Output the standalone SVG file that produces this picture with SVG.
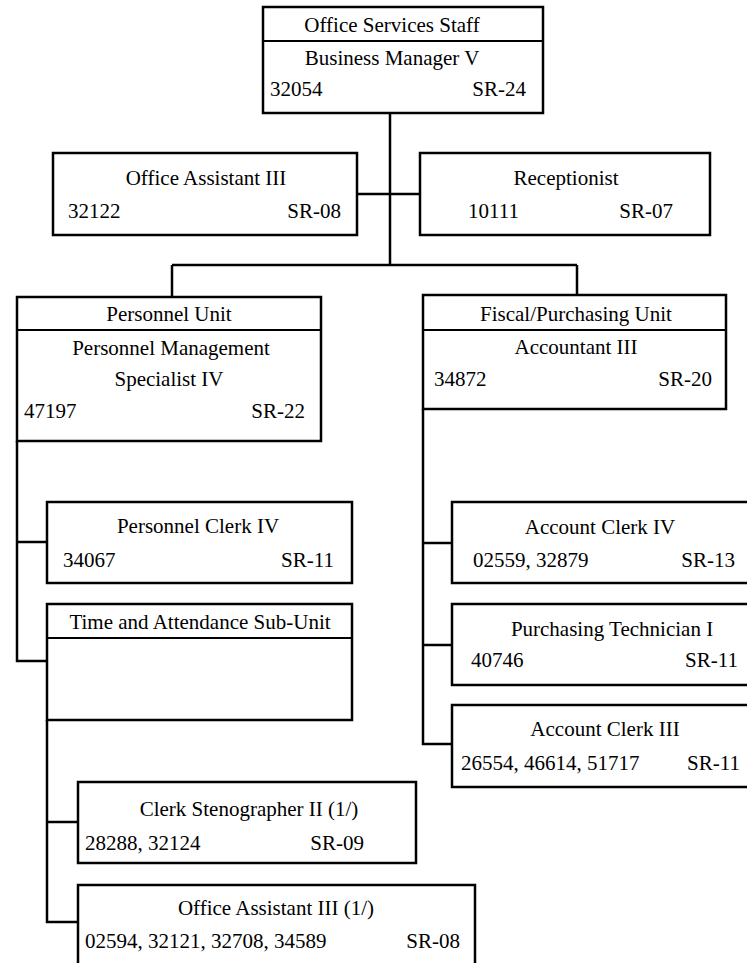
<svg xmlns="http://www.w3.org/2000/svg" width="747" height="963" viewBox="0 0 747 963">
<style>
.box{fill:#fff;stroke:#000;stroke-width:2.5}
.div{stroke:#000;stroke-width:2}
.ln{fill:none;stroke:#000;stroke-width:2.5}
text{font-family:"Liberation Serif","Times New Roman",serif;font-size:21px;fill:#000}
.c{text-anchor:middle}
.r{text-anchor:end}
</style>
<rect width="747" height="963" fill="#fff"/>
<g id="connectors">
<path class="ln" d="M390 113V265M357 194H420M172 265H577M172 265V297M577 265V295"/>
<path class="ln" d="M17 441V661H47M17 542H47"/>
<path class="ln" d="M47 720V922H78M47 822H78"/>
<path class="ln" d="M423 409V744H452M423 543H452M423 645H452"/>
</g>
<g id="office-services-staff">
<rect class="box" x="263" y="7" width="280" height="106"/>
<line class="div" x1="263" y1="41" x2="543" y2="41"/>
<text class="c" x="392" y="32">Office Services Staff</text>
<text class="c" x="392" y="65">Business Manager V</text>
<text x="270" y="96">32054</text>
<text class="r" x="526" y="96">SR-24</text>
</g>
<g id="office-assistant-iii">
<rect class="box" x="53" y="153" width="304" height="82"/>
<text class="c" x="206" y="185">Office Assistant III</text>
<text x="68" y="218">32122</text>
<text class="r" x="341" y="218">SR-08</text>
</g>
<g id="receptionist">
<rect class="box" x="420" y="153" width="290" height="82"/>
<text class="c" x="566" y="185">Receptionist</text>
<text x="468" y="218">10111</text>
<text class="r" x="673" y="218">SR-07</text>
</g>
<g id="personnel-unit">
<rect class="box" x="17" y="297" width="304" height="144"/>
<line class="div" x1="17" y1="330" x2="321" y2="330"/>
<text class="c" x="169" y="321">Personnel Unit</text>
<text class="c" x="171" y="355">Personnel Management</text>
<text class="c" x="169" y="386">Specialist IV</text>
<text x="24" y="418">47197</text>
<text class="r" x="305" y="418">SR-22</text>
</g>
<g id="fiscal-purchasing-unit">
<rect class="box" x="423" y="295" width="303" height="114"/>
<line class="div" x1="423" y1="330" x2="726" y2="330"/>
<text class="c" x="576" y="321">Fiscal/Purchasing Unit</text>
<text class="c" x="576" y="354">Accountant III</text>
<text x="434" y="386">34872</text>
<text class="r" x="712" y="386">SR-20</text>
</g>
<g id="personnel-clerk-iv">
<rect class="box" x="47" y="502" width="305" height="81"/>
<text class="c" x="198" y="533">Personnel Clerk IV</text>
<text x="63" y="567">34067</text>
<text class="r" x="334" y="567">SR-11</text>
</g>
<g id="time-attendance">
<rect class="box" x="47" y="604" width="305" height="116"/>
<line class="div" x1="47" y1="638" x2="352" y2="638"/>
<text class="c" x="200" y="629">Time and Attendance Sub-Unit</text>
</g>
<g id="account-clerk-iv">
<rect class="box" x="452" y="502" width="320" height="81"/>
<text class="c" x="600" y="534">Account Clerk IV</text>
<text x="473" y="567">02559, 32879</text>
<text class="r" x="735" y="567">SR-13</text>
</g>
<g id="purchasing-technician-i">
<rect class="box" x="452" y="604" width="320" height="81"/>
<text class="c" x="612" y="636">Purchasing Technician I</text>
<text x="471" y="667">40746</text>
<text class="r" x="738" y="667">SR-11</text>
</g>
<g id="account-clerk-iii">
<rect class="box" x="452" y="705" width="320" height="82"/>
<text class="c" x="605" y="736">Account Clerk III</text>
<text x="461" y="770">26554, 46614, 51717</text>
<text class="r" x="740" y="770">SR-11</text>
</g>
<g id="clerk-stenographer-ii">
<rect class="box" x="78" y="782" width="338" height="81"/>
<text class="c" x="249" y="816">Clerk Stenographer II (1/)</text>
<text x="85" y="850">28288, 32124</text>
<text class="r" x="364" y="850">SR-09</text>
</g>
<g id="office-assistant-iii-1">
<rect class="box" x="78" y="885" width="397" height="90"/>
<text class="c" x="276" y="915">Office Assistant III (1/)</text>
<text x="85" y="948">02594, 32121, 32708, 34589</text>
<text class="r" x="460" y="948">SR-08</text>
</g>
</svg>
